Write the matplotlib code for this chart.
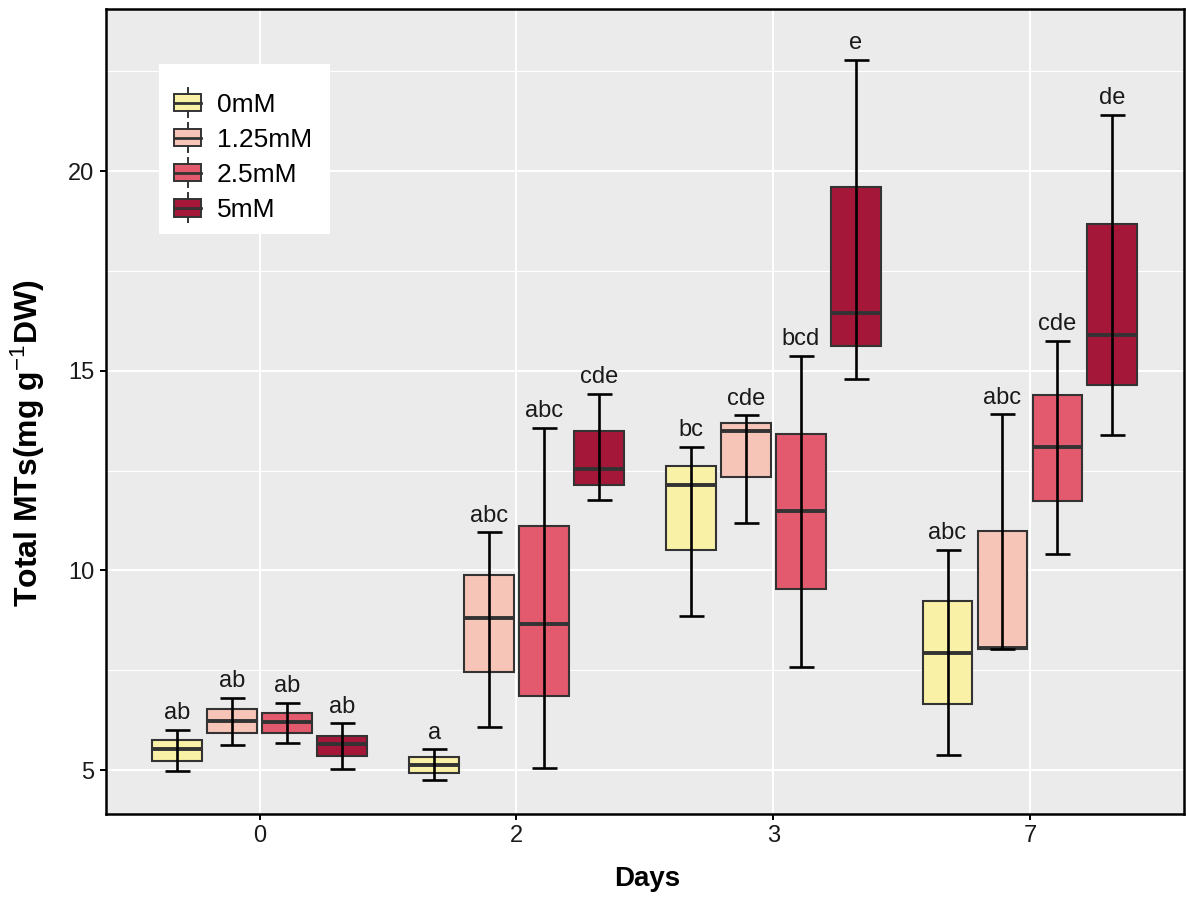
import numpy as np
import matplotlib
matplotlib.use('Agg')
import matplotlib.pyplot as plt
from matplotlib.patches import Rectangle, Patch
from matplotlib.lines import Line2D
from matplotlib.legend_handler import HandlerBase

plt.rcParams['font.family'] = ['Liberation Sans', 'DejaVu Sans']
plt.rcParams['mathtext.fontset'] = 'custom'
plt.rcParams['mathtext.rm'] = 'Liberation Sans'
plt.rcParams['mathtext.it'] = 'Liberation Sans:italic'
plt.rcParams['mathtext.bf'] = 'Liberation Sans:bold'

# ---------------- data ----------------
days = ['0', '2', '3', '7']
concentrations = ['0mM', '1.25mM', '2.5mM', '5mM']
colors = ['#F9F1A5', '#F7C5B8', '#E35A6E', '#A51739']

# rows: concentration, columns: day
whisker_low = [[4.97, 4.75, 8.87, 5.37],
               [5.63, 6.08, 11.19, 8.02],
               [5.68, 5.04, 7.58, 10.40],
               [5.03, 11.76, 14.79, 13.40]]
q1 = [[5.23, 4.92, 10.51, 6.66],
      [5.93, 7.45, 12.35, 8.02],
      [5.94, 6.85, 9.54, 11.74],
      [5.35, 12.14, 15.61, 14.65]]
median = [[5.53, 5.13, 12.15, 7.94],
          [6.23, 8.82, 13.49, 8.06],
          [6.21, 8.67, 11.48, 13.09],
          [5.65, 12.55, 16.44, 15.90]]
q3 = [[5.75, 5.33, 12.62, 9.23],
      [6.52, 9.88, 13.69, 10.98],
      [6.44, 11.12, 13.42, 14.40],
      [5.86, 13.49, 19.59, 18.68]]
whisker_high = [[6.00, 5.52, 13.10, 10.51],
                [6.81, 10.95, 13.88, 13.91],
                [6.69, 13.57, 15.37, 15.75],
                [6.17, 14.43, 22.78, 21.41]]
letters = [['ab', 'a', 'bc', 'abc'],
           ['ab', 'abc', 'cde', 'abc'],
           ['ab', 'abc', 'bcd', 'cde'],
           ['ab', 'cde', 'e', 'de']]

# ---------------- figure ----------------
W, H = 1186, 900
fig = plt.figure(figsize=(W / 100, H / 100), dpi=100)
left_px, right_px, top_px, bottom_px = 105.7, 1184, 9, 814
ax = fig.add_axes([left_px / W, 1 - bottom_px / H,
                   (right_px - left_px) / W, (bottom_px - top_px) / H])

ax.set_facecolor('#EBEBEB')
ax.set_xlim(-0.6, 3.6)
ax.set_ylim(3.90, 24.06)

offsets = [-0.321, -0.107, 0.107, 0.321]
box_w = 0.194
edge = '#333333'
base = np.arange(len(days))

for i, conc in enumerate(concentrations):
    x = base + offsets[i]
    lo = np.array(whisker_low[i]); hi = np.array(whisker_high[i])
    b1 = np.array(q1[i]); b3 = np.array(q3[i]); md = np.array(median[i])
    ax.bar(x, b3 - b1, bottom=b1, width=box_w, color=colors[i],
           edgecolor=edge, linewidth=1.5, zorder=3)
    ax.hlines(md, x - box_w / 2, x + box_w / 2, color=edge,
              linewidth=2.8, zorder=4, capstyle='butt')
    ax.errorbar(x, md, yerr=[md - lo, hi - md], fmt='none', ecolor='black',
                elinewidth=1.9, capsize=9, capthick=1.9, zorder=5)
    for xx, yy, lab in zip(x, hi, letters[i]):
        ax.text(xx, yy + 0.27, lab, ha='center', va='baseline',
                fontsize=17, color='#1a1a1a', zorder=6)

# grid & ticks
ax.set_yticks([5, 10, 15, 20])
ax.set_yticks([7.5, 12.5, 17.5, 22.5], minor=True)
ax.set_xticks(base)
ax.set_xticklabels(days)
ax.set_axisbelow(True)
ax.grid(which='major', color='white', linewidth=1.5)
ax.grid(which='minor', axis='y', color='white', linewidth=0.8)
ax.tick_params(which='minor', length=0)
ax.tick_params(which='major', length=4, width=1.4, color='black',
               labelsize=17, labelcolor='#1a1a1a', pad=4)
for s in ax.spines.values():
    s.set_linewidth(1.8)
    s.set_color('black')

fig.text(647 / W, 1 - 879 / H, 'Days', ha='center', va='center',
         fontsize=20, fontweight='bold')
fig.text(28 / W, 1 - 443 / H, r'Total MTs(mg g$^{-1}$DW)', ha='center',
         va='center', rotation=90, fontsize=23, fontweight='bold')


# ---------------- legend ----------------
class BoxHandler(HandlerBase):
    def create_artists(self, legend, orig_handle, xdescent, ydescent,
                       width, height, fontsize, trans):
        cx = width / 2 - xdescent
        cy = height / 2 - ydescent
        bw, bh, wl = 19.5, 12.5, 21.0
        rect = Rectangle((cx - bw / 2, cy - bh / 2), bw, bh,
                         facecolor=orig_handle.get_facecolor(),
                         edgecolor=edge, linewidth=1.4, transform=trans)
        w1 = Line2D([cx, cx], [cy + bh / 2, cy + wl / 2], color=edge,
                    linewidth=1.4, transform=trans)
        w2 = Line2D([cx, cx], [cy - bh / 2, cy - wl / 2], color=edge,
                    linewidth=1.4, transform=trans)
        md = Line2D([cx - bw / 2, cx + bw / 2], [cy, cy], color=edge,
                    linewidth=2.0, transform=trans)
        return [rect, w1, w2, md]


def ax_x(px):
    return (px - left_px) / (right_px - left_px)


def ax_y(py):
    return (bottom_px - py) / (bottom_px - top_px)


bg = Rectangle((ax_x(159), ax_y(234)), ax_x(330) - ax_x(159),
               ax_y(64) - ax_y(234), transform=ax.transAxes,
               facecolor='white', edgecolor='none', zorder=6)
ax.add_patch(bg)

handles = [Patch(facecolor=c) for c in colors]
leg = ax.legend(handles, concentrations, handler_map={Patch: BoxHandler()},
                loc='center left', bbox_to_anchor=(ax_x(174), ax_y(157.5)),
                frameon=False, fontsize=19, handlelength=19.5 / 19,
                handleheight=0.7, labelspacing=0.42, handletextpad=0.6,
                borderpad=0, borderaxespad=0)
leg.set_zorder(7)

fig.savefig('out.png', dpi=100)
